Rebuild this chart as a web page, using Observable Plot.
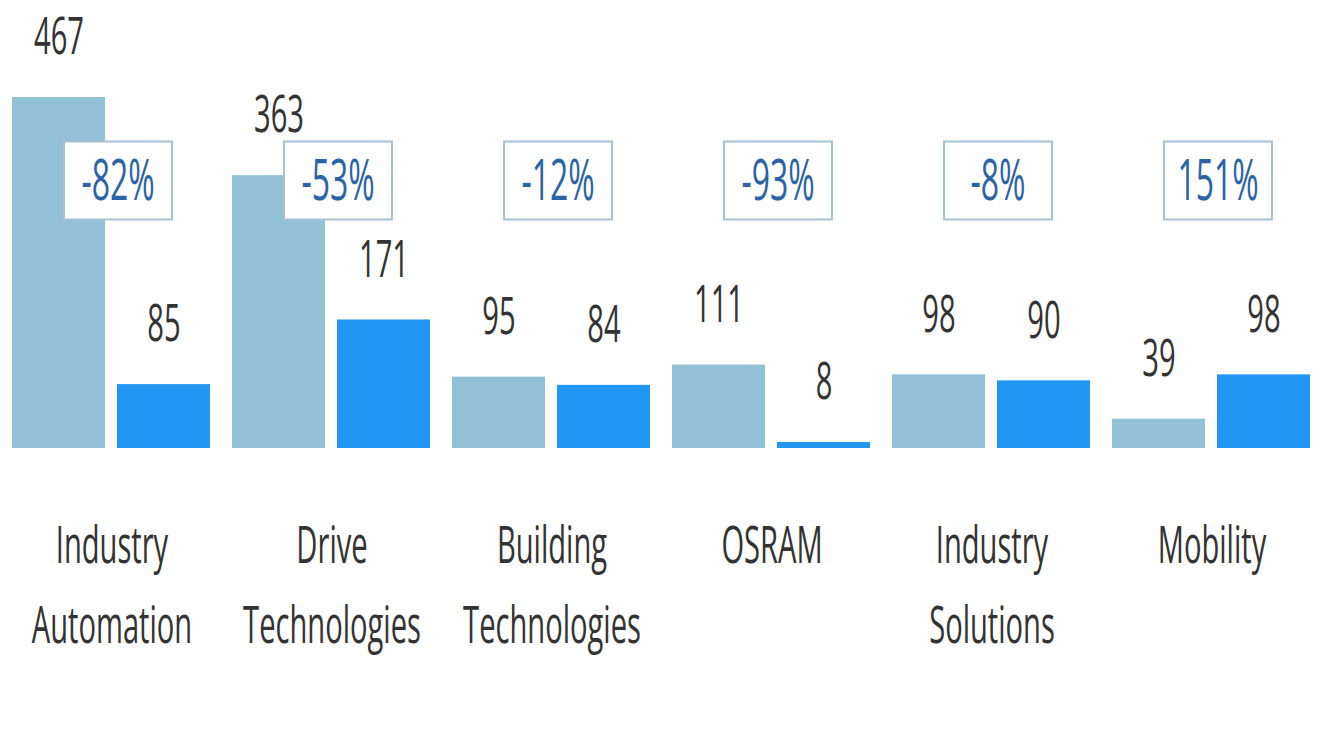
<!DOCTYPE html>
<html>
<head>
<meta charset="utf-8">
<script src="https://cdn.jsdelivr.net/npm/d3@7"></script>
<script src="https://cdn.jsdelivr.net/npm/@observablehq/plot@0.6"></script>
<style>
  html, body { margin: 0; padding: 0; background: #fff; }
  #chart svg { display: block; }
</style>
</head>
<body>
<div id="chart"></div>
<script>
// Segment results, prior period vs current period
const segments = [
  "Industry\nAutomation",
  "Drive\nTechnologies",
  "Building\nTechnologies",
  "OSRAM",
  "Industry\nSolutions",
  "Mobility"
];
const periods = ["Prior year", "Current year"];
const priorValues = [467, 363, 95, 111, 98, 39];
const currentValues = [85, 171, 84, 8, 90, 98];

const bars = segments.flatMap((segment, i) => [
  {segment, period: periods[0], value: priorValues[i]},
  {segment, period: periods[1], value: currentValues[i]}
]);

const changes = segments.map((segment, i) => ({
  segment,
  label: `${Math.round((currentValues[i] / priorValues[i] - 1) * 100)}%`
}));

// rectangular badge drawn as a custom dot symbol
const badge = {
  draw(context) {
    context.rect(-54, -39, 108, 78);
  }
};

const chart = Plot.plot({
  width: 1320,
  height: 742,
  marginTop: 97,
  marginBottom: 294,
  marginLeft: 10,
  marginRight: 6,
  style: {fontFamily: "'Open Sans', sans-serif", background: "#fff"},
  fx: {domain: segments, paddingInner: 0.095, paddingOuter: 0},
  x: {domain: periods, paddingInner: 0.113, paddingOuter: 0, axis: null},
  y: {domain: [0, 467], nice: false, axis: null},
  color: {domain: periods, range: ["#91c0d7", "#2196f3"]},
  marks: [
    Plot.barY(bars, {fx: "segment", x: "period", y: "value", fill: "period"}),
    Plot.text(bars, {
      fx: "segment", x: "period", y: "value", text: d => String(d.value),
      dy: -60, fontSize: 52, fill: "#333", lineAnchor: "middle"
    }),
    Plot.dot(changes, {
      fx: "segment", frameAnchor: "top", dy: 83, dx: 6,
      symbol: badge, fill: "#fff", stroke: "#a7c1d3", strokeWidth: 2
    }),
    Plot.text(changes, {
      fx: "segment", frameAnchor: "top", dy: 84, dx: 6, text: "label",
      fontSize: 57, fill: "#2b64a6", lineAnchor: "middle"
    }),
    Plot.axisFx({
      anchor: "bottom", tickSize: 0, tickPadding: 58, fontSize: 52,
      lineHeight: 1.53, fill: "#333", label: null
    })
  ]
});

// condensed letterforms: squeeze every label horizontally about its anchor
d3.select(chart).selectAll("text").each(function() {
  const t = this.getAttribute("transform");
  if (t) this.setAttribute("transform", t + " scale(0.56,1)");
});

document.getElementById("chart").appendChild(chart);
</script>
</body>
</html>
